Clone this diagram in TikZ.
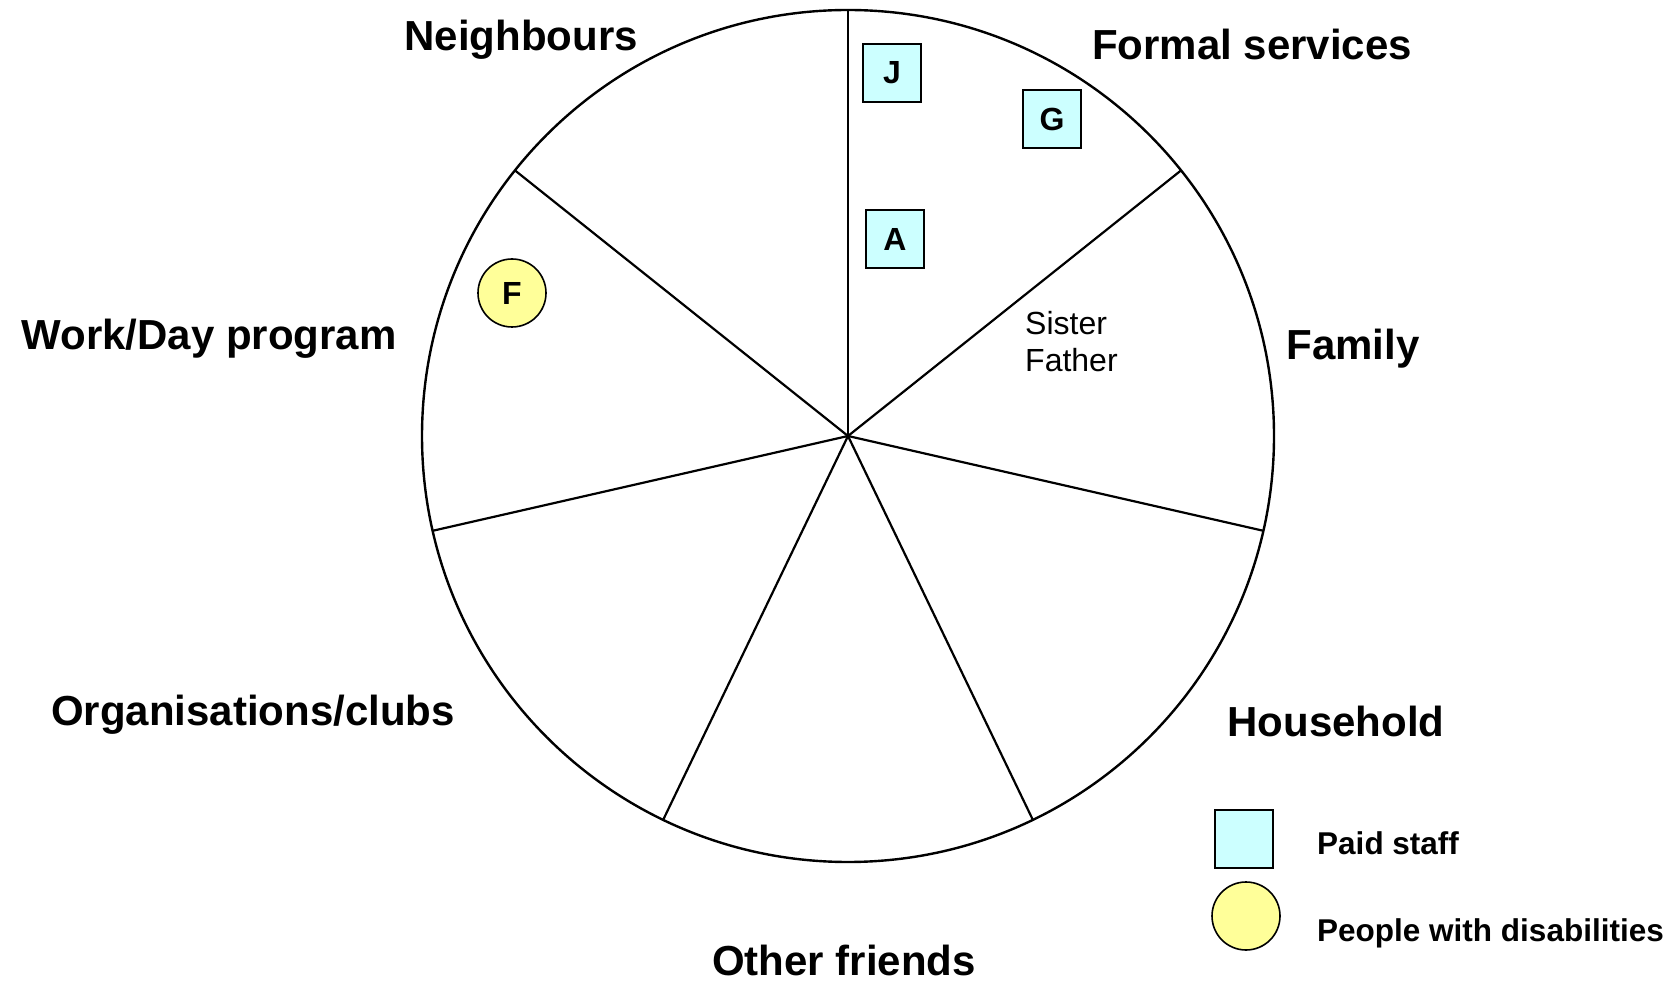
\documentclass[tikz,border=0pt]{standalone}
\usepackage{fontspec}
\setmainfont{Liberation Sans}
\definecolor{staff}{RGB}{204,255,255}
\definecolor{dis}{RGB}{255,255,153}
\begin{document}
\begin{tikzpicture}[x=1pt,y=1pt,
  lbl/.style={font=\fontsize{42}{48}\selectfont\bfseries, inner sep=0pt, anchor=base},
  staffbox/.style={draw, line width=1.6pt, fill=staff, minimum size=58pt, inner sep=0pt, font=\fontsize{32}{36}\selectfont\bfseries},
  disc/.style={draw, circle, line width=1.6pt, fill=dis, minimum size=68pt, inner sep=0pt, font=\fontsize{32}{36}\selectfont\bfseries},
  legtxt/.style={font=\fontsize{31.5}{36}\selectfont\bfseries, inner sep=0pt, anchor=base west},
  ring/.style={line width=2.4pt},
  spoke/.style={line width=2.2pt}]
\useasboundingbox (0,0) rectangle (1677,983);
\coordinate (c) at (848,547);
\draw[ring] (c) circle (426pt);
\foreach \i in {0,...,6} {
  \path (c) ++({90-\i*360/7}:426pt) coordinate (p\i);
  \draw[spoke] (c) -- (p\i);
}
% sector labels
\node[lbl] (neigh) at (521,932) {Neighbours};
\node[lbl] (formal) at (1252,923) {Formal services};
\node[lbl] (family) at (1353,623) {Family};
\node[lbl] (work) at (209,633) {Work/Day program};
\node[lbl] (org) at (253,258) {Organisations/clubs};
\node[lbl] (house) at (1336,247) {Household};
\node[lbl] (friends) at (844,8) {Other friends};
% members
\node[staffbox] (J) at (892,910) {J};
\node[staffbox] (G) at (1052,864) {G};
\node[staffbox] (A) at (895,744) {A};
\node[disc] (F) at (512,690) {F};
\node[font=\fontsize{32}{37}\selectfont, align=left, inner sep=0pt, anchor=base west] (fam) at (1025,611) {Sister\\Father};
% legend
\node[staffbox] (legsq) at (1244,144) {};
\node[disc] (legci) at (1246,67) {};
\node[legtxt] (legpaid) at (1317,129) {Paid staff};
\node[legtxt] (legdis) at (1317,42) {People with disabilities};
\end{tikzpicture}
\end{document}
